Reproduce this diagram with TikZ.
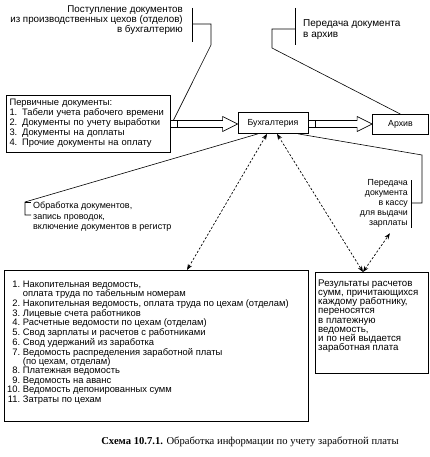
\documentclass[tikz,border=0pt]{standalone}
\usepackage{fontspec}
\setmainfont{Liberation Sans}
\newfontfamily\capfont{Liberation Serif}
\usetikzlibrary{arrows.meta,calc}
\newcommand\hollowarr[2]{\draw[ln] let \p1=(#1), \p2=(#2) in
  (\x1,\y1-3.5pt) -- (\x2-15pt,\y1-3.5pt) -- (\x2-15pt,\y1-7.5pt) -- (\x2,\y1)
  -- (\x2-15pt,\y1+7.5pt) -- (\x2-15pt,\y1+3.5pt) -- (\x1,\y1+3.5pt) -- cycle;}
\begin{document}
\begin{tikzpicture}[x=1pt,y=-1pt,
  box/.style={draw, line width=0.7pt, inner sep=0pt},
  txt/.style={font=\fontsize{8.8}{9.6}\selectfont, inner sep=0pt, align=left},
  ln/.style={line width=0.6pt},
  dasharr/.style={line width=0.7pt, dash pattern=on 2.2pt off 1.8pt,
    {Stealth[length=6pt,width=4.5pt]}-{Stealth[length=6pt,width=4.5pt]}},
]
\useasboundingbox (0,0) rectangle (430,457);

% top-left callout
\node[txt, align=right, anchor=north east, font=\fontsize{9.8}{10.1}\selectfont] (tl) at (183,5.5)
  {Поступление документов\\из производственных цехов (отделов)\\в бухгалтерию};
\coordinate (tlbt) at (192,8);
\coordinate (tlbb) at (192,42);
\draw[ln] (tlbt) -- (tlbb);

% primary documents
\node[box, font=\fontsize{9.4}{9.9}\selectfont, align=left, text width=157pt,
  minimum width=164pt, minimum height=57pt] (prim) at (88,123.5)
  {Первичные документы:\\1. Табели учета рабочего времени\\2. Документы по учету выработки\\3. Документы на доплаты\\4. Прочие документы на оплату};
\node[box, minimum size=7pt] (sq1) at (173.5,124) {};

\node[box, font=\fontsize{8.8}{10}\selectfont, minimum width=70pt, minimum height=21pt] (buh) at (273,123) {Бухгалтерия};
\node[box, minimum size=7pt] (sq2) at (311.5,124) {};
\node[box, font=\fontsize{8.8}{10}\selectfont, minimum width=56pt, minimum height=20pt] (arch) at (400.5,124.5) {Архив};

\hollowarr{sq1.east}{buh.west}
\hollowarr{sq2.east}{arch.west}

\draw[ln] (192,24) -- (211,24) -- (211,45) -- (sq1.north);

% top-right callout
\node[txt, anchor=north west, font=\fontsize{10}{10.7}\selectfont] (tr) at (303,19.5) {Передача документа\\в архив};
\coordinate (trbt) at (295,8);
\coordinate (trbb) at (295,45);
\draw[ln] (trbt) -- (trbb);
\draw[ln] (295,29) -- (272,29) -- (272,48) -- (arch.north);

% left callout
\node[txt, anchor=north west, font=\fontsize{9}{10.5}\selectfont] (obr) at (33,202)
  {Обработка документов,\\запись проводок,\\включение документов в регистр};
\coordinate (obrc) at (25,202);
\draw[ln] ([xshift=-15pt]buh.south) -- (obrc) -- (25,215) -- (31,215);
\draw[ln] (obrc) -- (31,202);

% right callout
\node[txt, align=right, anchor=north east, font=\fontsize{8.8}{10}\selectfont] (kassa) at (408,179)
  {Передача\\документа\\в кассу\\для выдачи\\зарплаты};
\coordinate (kc) at (422,155);
\draw[ln] ([xshift=25pt]buh.south) -- (kc) -- (422,203) -- (411,203);
\draw[ln] (411,180) -- (411,228);

% big list box
\node[box, minimum width=304pt, minimum height=151pt, anchor=north west] (lst) at (4,270) {};
\node[txt, anchor=north west, font=\fontsize{9.4}{9.3}\selectfont] (lsttext) at (7,280.5)
  {\renewcommand\arraystretch{1}\begin{tabular}{@{}r@{\ }l@{}}
  1. & Накопительная ведомость,\\
     & оплата труда по табельным номерам\\
  2. & Накопительная ведомость, оплата труда по цехам (отделам)\\
  3. & Лицевые счета работников\\
  4. & Расчетные ведомости по цехам (отделам)\\
  5. & Свод зарплаты и расчетов с работниками\\
  6. & Свод удержаний из заработка\\
  7. & Ведомость распределения заработной платы\\
     & (по цехам, отделам)\\
  8. & Платежная ведомость\\
  9. & Ведомость на аванс\\
  10. & Ведомость депонированных сумм\\
  11. & Затраты по цехам
  \end{tabular}};

% results box
\node[box, minimum width=113pt, minimum height=101pt, anchor=north west] (res) at (315,272) {};
\node[txt, anchor=north west, font=\fontsize{9.7}{9.2}\selectfont] (restext) at (318,279.5)
  {Результаты расчетов\\сумм, причитающихся\\каждому работнику,\\переносятся\\в платежную\\ведомость,\\и по ней выдается\\заработная плата};

% dashed arrows
\draw[dasharr] ([xshift=-6pt]buh.south) -- ([xshift=183pt]lst.north west);
\draw[dasharr] ([xshift=4pt]buh.south) -- ([xshift=48pt]res.north west);
\draw[dasharr] ([xshift=48pt]res.north west) -- ([xshift=6pt,yshift=-6pt]kassa.south);

% caption
\node[font=\capfont\fontsize{10.6}{12}\selectfont, anchor=base, inner sep=0pt] (cap) at (250,444)
  {\textbf{Схема 10.7.1.} Обработка информации по учету заработной платы};
\end{tikzpicture}
\end{document}
